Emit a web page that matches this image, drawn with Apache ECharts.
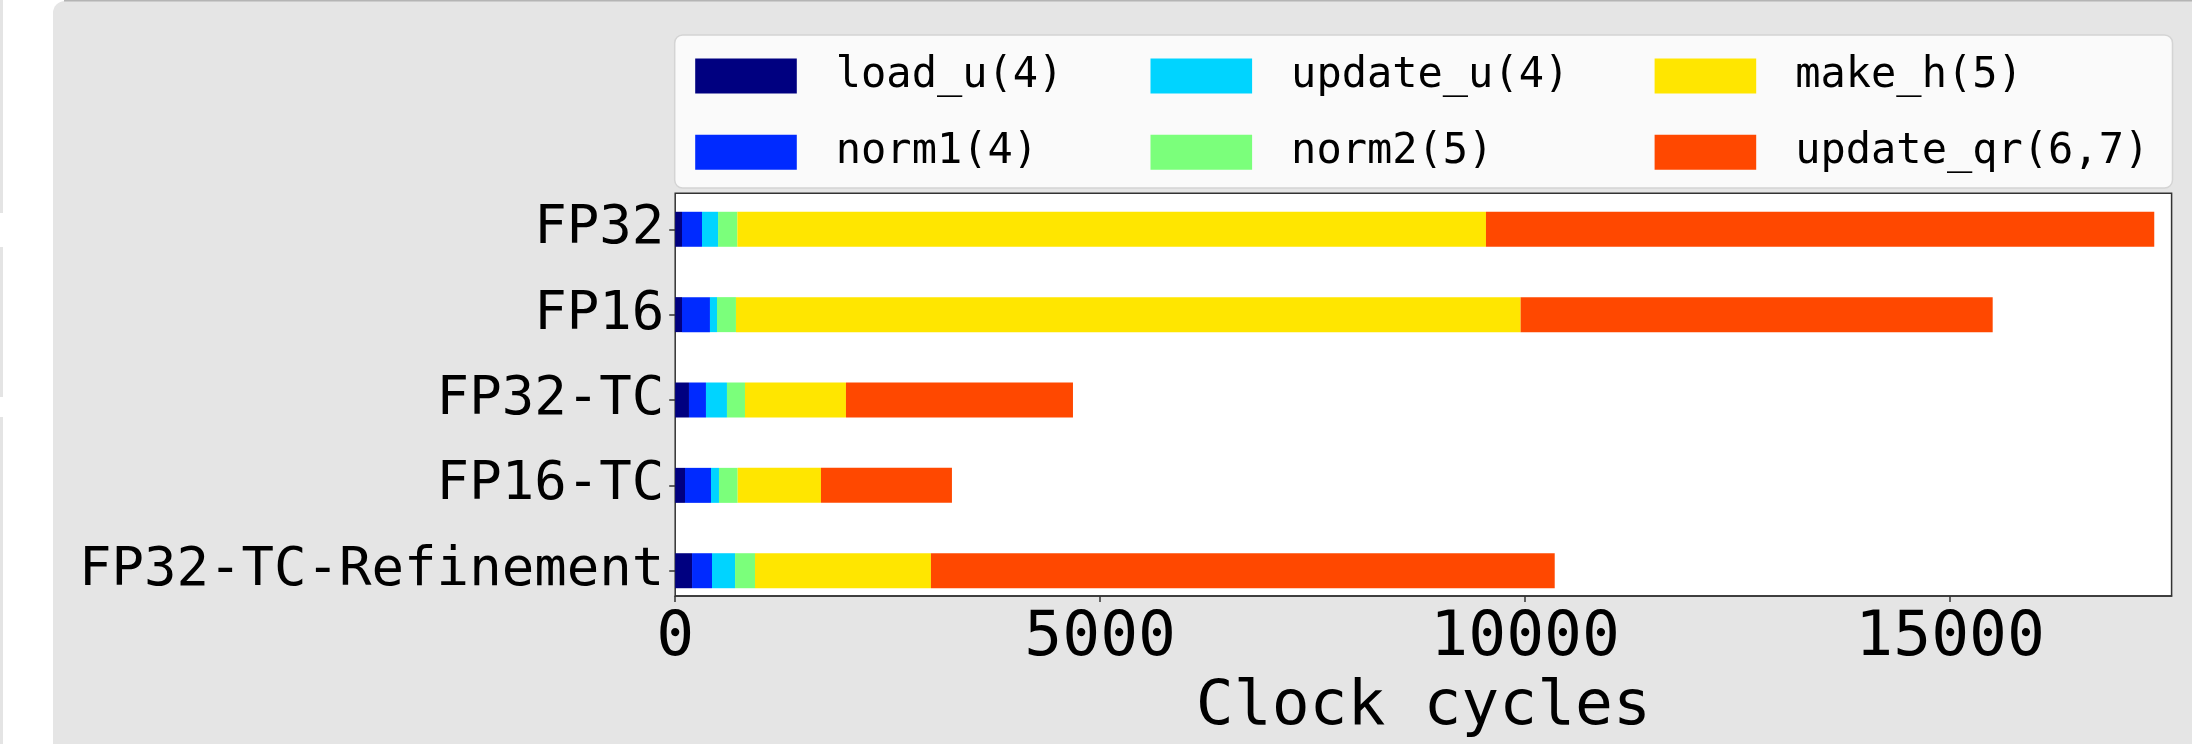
<!DOCTYPE html>
<html>
<head>
<meta charset="utf-8">
<title>Clock cycles per kernel</title>
<script src="https://cdn.jsdelivr.net/npm/echarts@6/dist/echarts.min.js"></script>
<style>
  html, body { margin: 0; padding: 0; background: #fff; }
  #chart { width: 2192px; height: 744px; }
</style>
</head>
<body>
<div id="chart"></div>
<script>
// Variants (top to bottom)
const categories = ['FP32', 'FP16', 'FP32-TC', 'FP16-TC', 'FP32-TC-Refinement'];

// Clock cycles spent in each kernel, per variant
const loadU    = [80, 80, 162, 115, 198];
const norm1    = [235, 329, 200, 306, 235];
const updateU  = [189, 83, 247, 94, 271];
const norm2    = [227, 223, 212, 220, 235];
const makeH    = [8808, 9232, 1188, 980, 2070];
const updateQr = [7863, 5554, 2671, 1541, 7339];

const seriesNames = ['load_u(4)', 'norm1(4)', 'update_u(4)', 'norm2(5)', 'make_h(5)', 'update_qr(6,7)'];
const seriesValues = [loadU, norm1, updateU, norm2, makeH, updateQr];
// jet colormap samples
const seriesColors = ['#000080', '#002aff', '#00d4ff', '#7bff7b', '#ffe600', '#ff4800'];

const xTicks = [0, 5000, 10000, 15000];
const xMax = 17606;

const FONT = 'DejaVu Sans Mono';

const plotLeft = 675.2, plotWidth = 1496.4;

const chart = echarts.init(document.getElementById('chart'), null, { renderer: 'canvas' });

function legendBlock(names, left) {
  return {
    data: names,
    left: left,
    top: 55,
    orient: 'vertical',
    icon: 'rect',
    itemWidth: 101.6,
    itemHeight: 35,
    itemGap: 34.3,
    padding: 0,
    selectedMode: false,
    textStyle: {
      fontFamily: FONT,
      fontSize: 42,
      lineHeight: 35,
      color: '#000',
      padding: [0, 0, 0, 34]
    }
  };
}

const option = {
  backgroundColor: '#ffffff',
  animation: false,
  graphic: {
    elements: [
      { type: 'rect', z: -20, shape: { x: 0, y: 0, width: 3, height: 213 }, style: { fill: '#e4e4e4' } },
      { type: 'rect', z: -20, shape: { x: 0, y: 247, width: 3, height: 150 }, style: { fill: '#e4e4e4' } },
      { type: 'rect', z: -20, shape: { x: 0, y: 417, width: 3, height: 327 }, style: { fill: '#e4e4e4' } },
      { type: 'rect', z: -20, shape: { x: 53, y: 1, width: 2200, height: 800, r: [12, 0, 0, 0] }, style: { fill: '#e5e5e5' } },
      { type: 'line', z: -19, shape: { x1: 64, y1: 0.8, x2: 2192, y2: 0.8 }, style: { stroke: '#b4b4b4', lineWidth: 1.6 } },
      { type: 'rect', z: -10, shape: { x: 674.7, y: 35, width: 1497.8, height: 153, r: 8 },
        style: { fill: '#fafafa', stroke: '#d4d4d4', lineWidth: 1.5 } }
    ]
  },
  legend: [
    legendBlock([seriesNames[0], seriesNames[1]], 695.2),
    legendBlock([seriesNames[2], seriesNames[3]], 1150.5),
    legendBlock([seriesNames[4], seriesNames[5]], 1654.6)
  ],
  grid: [
    { left: plotLeft, top: 193.3, width: plotWidth, height: 412.7, show: true,
      backgroundColor: '#ffffff', borderColor: '#333', borderWidth: 1.5 },
    { left: plotLeft, top: 186.6, width: plotWidth, height: 426.8 }
  ],
  xAxis: [
    {
      gridIndex: 0, type: 'value', min: 0, max: xMax,
      axisLine: { show: true, lineStyle: { color: '#333', width: 1.5 } },
      axisTick: { show: true, length: 6, lineStyle: { color: '#333', width: 1.5 }, customValues: xTicks },
      axisLabel: { fontFamily: FONT, fontSize: 63, color: '#000', margin: 11, customValues: xTicks,
        formatter: (v) => String(v) },
      splitLine: { show: false },
      name: 'Clock cycles', nameLocation: 'middle', nameGap: 80,
      nameTextStyle: { fontFamily: FONT, fontSize: 63, color: '#000' }
    },
    { gridIndex: 1, type: 'value', min: 0, max: xMax, show: false }
  ],
  yAxis: [
    { gridIndex: 0, type: 'value', min: 0, max: 1, show: false },
    {
      gridIndex: 1, type: 'category', inverse: true, data: categories,
      axisLine: { show: false },
      axisTick: { show: true, alignWithLabel: true, length: 6, lineStyle: { color: '#333', width: 1.5 } },
      axisLabel: { fontFamily: FONT, fontSize: 54, color: '#000', margin: 11 },
      splitLine: { show: false }
    }
  ],
  series: seriesNames.map((name, i) => ({
    name: name,
    type: 'bar',
    stack: 'total',
    xAxisIndex: 1,
    yAxisIndex: 1,
    barWidth: 35,
    itemStyle: { color: seriesColors[i] },
    data: seriesValues[i]
  }))
};

chart.setOption(option);
</script>
</body>
</html>
